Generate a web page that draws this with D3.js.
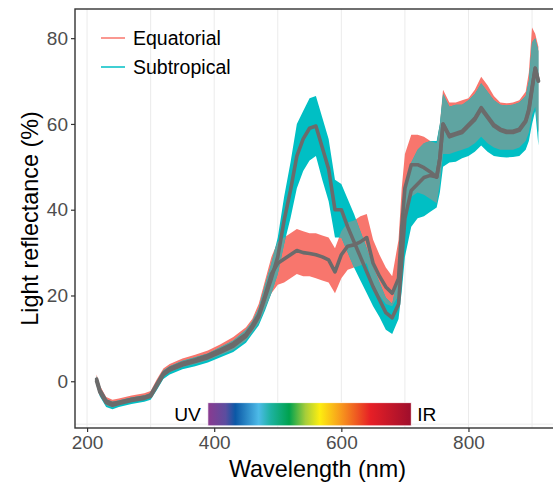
<!DOCTYPE html>
<html>
<head>
<meta charset="utf-8">
<script src="https://cdn.jsdelivr.net/npm/d3@7"></script>
<style>
  body { margin: 0; background: #fff; }
  svg { display: block; font-family: "Liberation Sans", Arial, sans-serif; }
</style>
</head>
<body>
<div id="chart"></div>
<script>
// wavelengths (nm)
const wavelengths = [215,220,230,240,250,270,290,300,310,320,330,350,370,390,410,430,450,
  460,470,480,490,500,510,520,530,540,550,560,570,580,590,600,610,620,630,640,650,660,670,680,
  690,695,700,710,720,730,740,750,755,
  760,770,780,790,800,810,820,830,840,850,860,870,880,890,895,900,905,910];

// Equatorial: mean and ribbon bounds (%)
const eqMean = [0.5,-2.0,-4.6,-5.2,-4.9,-4.2,-3.7,-3.2,-0.6,1.9,3.0,4.2,5.0,6.0,7.3,8.8,11.0,
  13.0,15.5,20.0,25.0,27.5,28.5,29.5,30.5,30.0,29.8,29.5,29.0,28.3,25.5,29.5,31.5,31.8,32.5,33.5,27.5,24.5,22.0,20.5,
  24.0,36.0,45.0,50.5,50.5,49.8,48.8,47.6,52.0,
  60.0,57.3,57.8,58.3,59.8,61.3,63.8,61.8,59.8,58.8,58.3,58.3,58.8,60.8,63.5,68.5,73.0,70.0];
const eqLow = [-0.3,-3.0,-5.6,-6.1,-5.6,-4.8,-4.3,-3.8,-1.5,1.0,2.1,3.3,4.0,4.9,6.1,7.3,9.5,
  11.5,13.5,17.0,20.5,22.5,23.0,24.0,25.0,24.5,24.5,24.0,23.5,23.0,20.5,24.0,26.0,26.5,27.0,27.5,22.5,20.0,18.0,17.5,
  20.0,29.0,37.0,43.0,44.0,43.5,42.5,41.5,46.0,
  53.0,53.0,53.5,54.0,54.5,55.5,57.0,55.5,54.5,54.0,54.0,54.0,54.5,56.0,58.0,62.0,64.0,58.0];
const eqHigh = [1.6,-1.0,-3.7,-4.3,-4.0,-3.3,-2.8,-2.3,0.5,3.0,4.0,5.3,6.2,7.2,8.6,10.3,12.6,
  14.6,18.0,23.5,29.0,32.5,33.5,34.5,35.5,35.0,34.5,34.5,34.0,33.5,31.0,35.0,37.0,37.5,38.5,39.0,33.0,29.5,26.5,24.5,
  33.0,45.0,53.0,57.5,57.5,57.0,56.0,55.5,60.0,
  68.0,65.0,65.0,65.5,66.0,68.0,71.0,69.0,66.5,65.0,64.8,65.0,65.5,67.5,72.0,82.5,81.0,78.0];

// Subtropical: mean and ribbon bounds (%)
const stMean = [0.0,-2.5,-5.0,-5.6,-5.2,-4.5,-4.0,-3.5,-1.0,1.5,2.6,3.8,4.6,5.5,6.8,8.2,10.5,
  12.5,15.0,19.5,24.0,29.0,37.5,44.5,52.5,56.5,59.0,59.5,54.5,49.5,40.0,40.0,36.0,32.5,29.0,25.5,22.0,19.0,16.0,14.8,
  18.0,28.0,38.0,44.5,46.0,47.5,48.0,47.6,52.0,
  60.0,57.0,57.5,58.0,59.5,61.0,63.5,61.5,59.5,58.5,58.0,58.0,58.5,60.5,63.0,68.0,73.0,70.0];
const stLow = [-1.0,-3.5,-6.0,-6.5,-6.0,-5.3,-4.8,-4.3,-2.0,0.5,1.6,2.8,3.5,4.4,5.6,6.8,9.0,
  11.0,13.0,16.5,20.5,25.0,32.0,38.0,45.0,49.0,51.5,52.5,47.0,42.0,33.5,33.5,30.0,26.5,23.5,20.5,17.5,15.0,12.0,11.0,
  14.5,21.0,29.0,36.0,38.0,38.5,39.5,40.5,44.0,
  50.0,51.0,51.2,52.0,52.5,53.5,55.0,53.5,52.5,52.3,52.2,52.3,52.5,54.0,56.0,60.0,63.0,55.0];
const stHigh = [1.2,-1.5,-4.2,-4.8,-4.5,-3.8,-3.3,-2.8,0.0,2.5,3.5,4.8,5.6,6.5,8.0,9.5,12.0,
  14.0,17.0,22.5,27.5,33.5,43.0,51.0,60.0,63.0,66.0,66.5,61.5,56.5,47.0,46.0,42.5,39.0,35.0,31.0,26.5,23.0,19.5,18.0,
  25.0,35.0,45.0,51.0,54.0,55.5,56.0,56.0,60.0,
  67.0,64.0,64.5,64.5,65.5,67.0,69.5,67.5,65.5,64.5,64.3,64.5,65.0,66.5,70.0,79.0,80.0,77.0];

const groups = ["Equatorial", "Subtropical"];
const xTicks = [200, 400, 600, 800];
const xGrid = [200, 300, 400, 500, 600, 700, 800, 900];
const yTicks = [0, 20, 40, 60, 80];

// visible spectrum bar (nm range and reflectance band it sits in)
const spectrumRange = [390, 710];
const spectrumBand = [-10.4, -5];
const spectrumStops = [
  [0, "#8b3a90"], [0.087, "#5c4d9f"], [0.135, "#0b58a6"], [0.25, "#4dbbe8"], [0.31, "#1db2a0"],
  [0.40, "#00a24e"], [0.48, "#a6cd3a"], [0.55, "#fdee10"], [0.66, "#f7941d"], [0.80, "#e61f26"], [1, "#9e0e2c"]
];

const W = 553, H = 487;
const margin = { top: 9, right: -7, bottom: 59, left: 75 };
const colors = { Equatorial: "#F8766D", Subtropical: "#00BFC4", overlap: "#5fa4a1", mean: "#6b6b6b" };

const svg = d3.select("#chart").append("svg")
  .attr("width", W).attr("height", H);

const x = d3.scaleLinear().domain([181, 944]).range([margin.left, W - margin.right]);
const y = d3.scaleLinear().domain([-10.9, 86.8]).range([H - margin.bottom, margin.top]);

// grid
svg.append("g").selectAll("line").data(xGrid).join("line")
  .attr("x1", d => x(d)).attr("x2", d => x(d))
  .attr("y1", y.range()[0]).attr("y2", y.range()[1])
  .attr("stroke", "#ebebeb").attr("stroke-width", 1);
svg.append("line")
  .attr("x1", x.range()[0]).attr("x2", x.range()[1])
  .attr("y1", y(-10)).attr("y2", y(-10))
  .attr("stroke", "#ebebeb");

const rows = wavelengths.map((w, i) => ({
  w,
  Equatorial: { m: eqMean[i], lo: eqLow[i], hi: eqHigh[i] },
  Subtropical: { m: stMean[i], lo: stLow[i], hi: stHigh[i] }
}));

const area = g => d3.area().x(d => x(d.w)).y0(d => y(d[g].lo)).y1(d => y(d[g].hi));
const line = g => d3.line().x(d => x(d.w)).y(d => y(d[g].m));

const defs = svg.append("defs");
defs.append("clipPath").attr("id", "eqClip")
  .append("path").attr("d", area("Equatorial")(rows));

svg.append("path").attr("d", area("Equatorial")(rows)).attr("fill", colors.Equatorial);
svg.append("path").attr("d", area("Subtropical")(rows)).attr("fill", colors.Subtropical);
svg.append("path").attr("d", area("Subtropical")(rows)).attr("fill", colors.overlap)
  .attr("clip-path", "url(#eqClip)");

groups.forEach(g => {
  svg.append("path").attr("d", line(g)(rows))
    .attr("fill", "none").attr("stroke", colors.mean)
    .attr("stroke-width", 3.6).attr("stroke-linejoin", "round").attr("stroke-linecap", "round");
});

// spectrum bar
const grad = defs.append("linearGradient").attr("id", "spec");
spectrumStops.forEach(s => grad.append("stop").attr("offset", s[0]).attr("stop-color", s[1]));
svg.append("rect")
  .attr("x", x(spectrumRange[0])).attr("width", x(spectrumRange[1]) - x(spectrumRange[0]))
  .attr("y", y(spectrumBand[1])).attr("height", y(spectrumBand[0]) - y(spectrumBand[1]))
  .attr("fill", "url(#spec)").attr("stroke", "#fff").attr("stroke-width", 0.8);
const midBand = y((spectrumBand[0] + spectrumBand[1]) / 2);
svg.append("text").attr("x", x(spectrumRange[0]) - 7).attr("y", midBand).attr("dy", "0.36em")
  .attr("text-anchor", "end").style("font-size", "19.2px").text("UV");
svg.append("text").attr("x", x(spectrumRange[1]) + 6).attr("y", midBand).attr("dy", "0.36em")
  .style("font-size", "19.2px").text("IR");

// panel border
svg.append("rect")
  .attr("x", x.range()[0]).attr("y", y.range()[1])
  .attr("width", x.range()[1] - x.range()[0]).attr("height", y.range()[0] - y.range()[1])
  .attr("fill", "none").attr("stroke", "#333").attr("stroke-width", 1.4);

// axes
const xAxis = svg.append("g").attr("transform", `translate(0,${y.range()[0]})`)
  .call(d3.axisBottom(x).tickValues(xTicks).tickSize(4).tickPadding(4));
const yAxis = svg.append("g").attr("transform", `translate(${x.range()[0]},0)`)
  .call(d3.axisLeft(y).tickValues(yTicks).tickSize(4).tickPadding(3));
[xAxis, yAxis].forEach(a => {
  a.select(".domain").remove();
  a.selectAll(".tick line").attr("stroke", "#333").attr("stroke-width", 1.2);
  a.selectAll(".tick text").attr("fill", "#4d4d4d").style("font-size", "19px")
    .style("font-family", "'Liberation Sans', Arial, sans-serif");
});

svg.append("text")
  .attr("x", (x.range()[0] + x.range()[1]) / 2).attr("y", 477)
  .attr("text-anchor", "middle").style("font-size", "23.4px").text("Wavelength (nm)");
svg.append("text")
  .attr("transform", `translate(38,${(y.range()[0] + y.range()[1]) / 2}) rotate(-90)`)
  .attr("text-anchor", "middle").style("font-size", "23.4px").text("Light reflectance (%)");

// legend
const legend = svg.append("g").attr("transform", "translate(101,38)");
groups.forEach((g, i) => {
  const row = legend.append("g").attr("transform", `translate(0,${i * 29})`);
  row.append("line").attr("x1", 0).attr("x2", 24).attr("stroke", colors[g]).attr("stroke-width", 1.5);
  row.append("text").attr("x", 32).attr("dy", "0.36em").style("font-size", "19.5px").text(g);
});
</script>
</body>
</html>
